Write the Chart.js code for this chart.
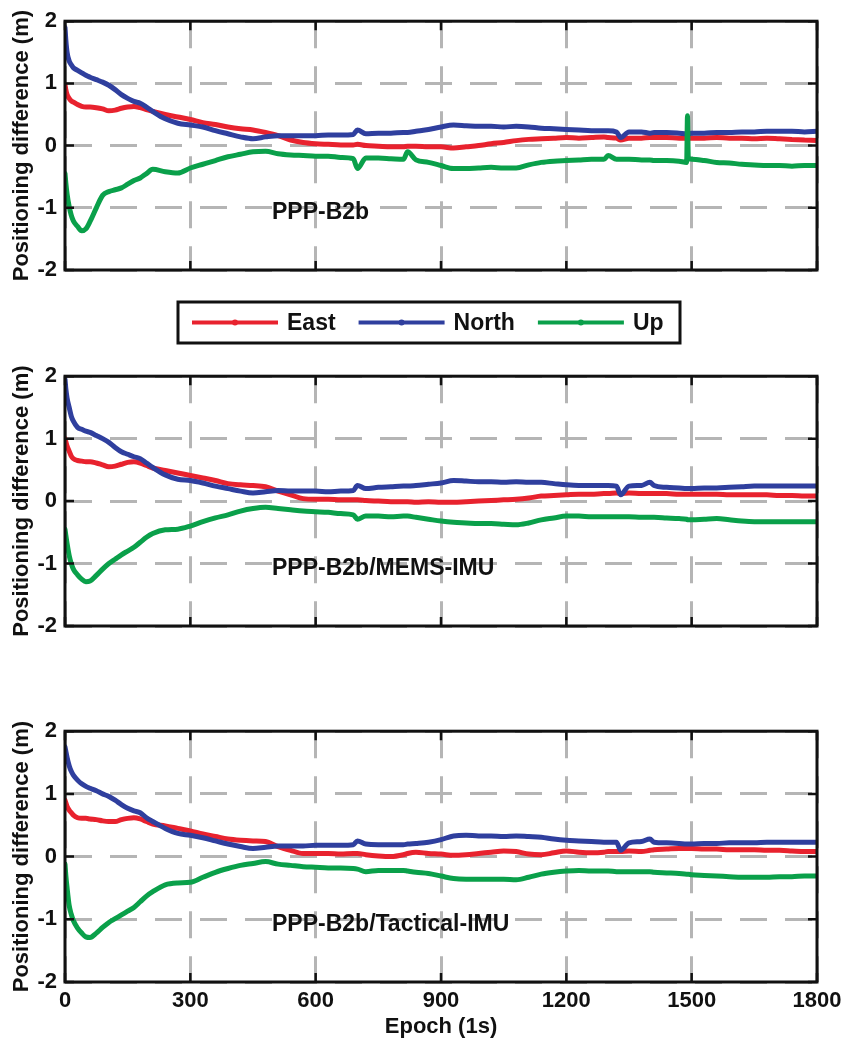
<!DOCTYPE html>
<html><head><meta charset="utf-8">
<script src="https://cdn.jsdelivr.net/npm/chart.js@4.4.1/dist/chart.umd.min.js"></script>
<style>
html,body{margin:0;padding:0;background:#fff;}
#wrap{position:relative;width:857px;height:1046px;overflow:hidden;background:#fff;}
canvas{position:absolute;left:0;}
</style></head><body>
<div id="wrap">
<canvas id="c1" width="857" height="355" style="top:0px"></canvas>
<canvas id="c2" width="857" height="355" style="top:355px"></canvas>
<canvas id="c3" width="857" height="336" style="top:710px"></canvas>
</div>
<script>
// ---------------- data ----------------
const epochs = [0,2,5,10,15,20,30,40,50,60,
 75,90,105,120,135,150,165,180,195,210,
 240,270,300,330,360,390,420,450,480,510,
 540,570,600,630,660,690,700,720,750,780,
 810,820,840,870,900,930,960,990,1020,1050,
 1080,1110,1140,1170,1200,1230,1260,1290,1300,1320,
 1330,1350,1380,1400,1410,1440,1470,1488,1490,1492,
 1500,1530,1560,1590,1620,1650,1680,1710,1740,1770,
 1800];

const xTicks = [0,300,600,900,1200,1500,1800];
const yTicks = [2,1,0,-1,-2];
const seriesNames = ['East','North','Up'];
const panelLabels = ['PPP-B2b','PPP-B2b/MEMS-IMU','PPP-B2b/Tactical-IMU'];

// Panel 1: PPP-B2b
const eastB2b = [0.98,0.9,0.82,0.76,0.72,0.7,0.66,0.63,0.62,0.62,
 0.61,0.59,0.56,0.57,0.6,0.62,0.63,0.61,0.58,0.55,
 0.5,0.46,0.42,0.37,0.34,0.3,0.27,0.25,0.21,0.16,
 0.09,0.05,0.03,0.02,0.01,0.01,0.02,0.0,-0.01,-0.02,
 -0.02,-0.01,-0.01,-0.02,-0.02,-0.04,-0.02,0.0,0.03,0.05,
 0.08,0.1,0.11,0.12,0.13,0.12,0.13,0.14,0.13,0.12,
 0.09,0.12,0.12,0.13,0.13,0.13,0.12,0.12,0.12,0.12,
 0.12,0.12,0.13,0.12,0.12,0.11,0.12,0.11,0.1,0.09,
 0.08];
const northB2b = [1.9,1.7,1.5,1.36,1.3,1.25,1.21,1.17,1.13,1.1,
 1.06,1.02,0.97,0.9,0.82,0.76,0.71,0.68,0.62,0.55,
 0.43,0.36,0.33,0.3,0.24,0.19,0.14,0.11,0.14,0.16,
 0.16,0.16,0.16,0.17,0.17,0.18,0.25,0.19,0.2,0.2,
 0.21,0.21,0.23,0.26,0.3,0.33,0.32,0.31,0.31,0.3,
 0.31,0.3,0.28,0.27,0.26,0.25,0.24,0.24,0.24,0.22,
 0.13,0.22,0.22,0.2,0.21,0.21,0.2,0.19,0.19,0.19,
 0.2,0.2,0.21,0.21,0.22,0.22,0.23,0.23,0.23,0.22,
 0.23];
const upB2b = [-0.45,-0.6,-0.78,-0.98,-1.12,-1.21,-1.3,-1.37,-1.34,-1.22,
 -1.0,-0.8,-0.74,-0.71,-0.68,-0.62,-0.56,-0.52,-0.45,-0.38,
 -0.42,-0.44,-0.36,-0.3,-0.24,-0.18,-0.14,-0.1,-0.09,-0.13,
 -0.15,-0.16,-0.17,-0.17,-0.19,-0.21,-0.37,-0.2,-0.2,-0.21,
 -0.22,-0.1,-0.23,-0.27,-0.32,-0.37,-0.37,-0.36,-0.35,-0.36,
 -0.36,-0.31,-0.27,-0.25,-0.24,-0.23,-0.22,-0.22,-0.16,-0.22,
 -0.22,-0.22,-0.23,-0.23,-0.24,-0.24,-0.25,-0.27,0.48,-0.2,
 -0.22,-0.24,-0.27,-0.28,-0.3,-0.31,-0.32,-0.32,-0.33,-0.32,
 -0.32];

// Panel 2: PPP-B2b/MEMS-IMU
const eastMems = [1.0,0.95,0.88,0.8,0.72,0.68,0.65,0.64,0.63,0.63,
 0.61,0.58,0.55,0.56,0.59,0.62,0.63,0.61,0.57,0.53,
 0.49,0.45,0.41,0.37,0.33,0.28,0.26,0.25,0.23,0.16,
 0.1,0.04,0.03,0.03,0.02,0.02,0.02,0.01,0.0,-0.01,
 -0.01,-0.01,-0.02,-0.01,-0.02,-0.02,-0.01,0.0,0.01,0.02,
 0.03,0.05,0.08,0.09,0.1,0.11,0.11,0.12,0.12,0.13,
 0.12,0.13,0.12,0.12,0.12,0.12,0.11,0.11,0.11,0.11,
 0.11,0.11,0.11,0.1,0.1,0.1,0.1,0.09,0.09,0.08,
 0.08];
const northMems = [1.95,1.8,1.65,1.5,1.36,1.28,1.18,1.15,1.12,1.1,
 1.05,1.0,0.94,0.86,0.79,0.75,0.71,0.68,0.61,0.54,
 0.42,0.35,0.33,0.29,0.24,0.2,0.16,0.13,0.15,0.17,
 0.16,0.16,0.16,0.15,0.16,0.17,0.25,0.2,0.22,0.23,
 0.24,0.24,0.25,0.27,0.29,0.33,0.32,0.31,0.31,0.3,
 0.31,0.3,0.3,0.28,0.26,0.25,0.25,0.25,0.25,0.24,
 0.1,0.24,0.25,0.3,0.25,0.22,0.21,0.2,0.2,0.2,
 0.2,0.21,0.21,0.22,0.23,0.24,0.24,0.24,0.24,0.24,
 0.24];
const upMems = [-0.45,-0.55,-0.68,-0.87,-1.0,-1.09,-1.18,-1.25,-1.29,-1.28,
 -1.19,-1.09,-1.0,-0.93,-0.86,-0.8,-0.74,-0.66,-0.58,-0.52,
 -0.46,-0.45,-0.4,-0.33,-0.27,-0.22,-0.16,-0.12,-0.1,-0.12,
 -0.14,-0.16,-0.17,-0.18,-0.2,-0.22,-0.29,-0.24,-0.24,-0.25,
 -0.24,-0.24,-0.26,-0.29,-0.32,-0.34,-0.35,-0.36,-0.36,-0.37,
 -0.38,-0.35,-0.3,-0.27,-0.24,-0.24,-0.25,-0.25,-0.25,-0.25,
 -0.25,-0.25,-0.26,-0.26,-0.26,-0.27,-0.28,-0.29,-0.3,-0.3,
 -0.3,-0.29,-0.28,-0.3,-0.32,-0.33,-0.33,-0.33,-0.33,-0.33,
 -0.33];

// Panel 3: PPP-B2b/Tactical-IMU
const eastTact = [0.9,0.86,0.8,0.74,0.7,0.66,0.62,0.61,0.61,0.6,
 0.59,0.57,0.56,0.56,0.59,0.61,0.62,0.6,0.56,0.52,
 0.49,0.45,0.41,0.36,0.32,0.28,0.26,0.25,0.24,0.16,
 0.1,0.05,0.05,0.05,0.04,0.05,0.05,0.03,0.01,0.0,
 0.03,0.05,0.07,0.05,0.04,0.02,0.03,0.05,0.07,0.09,
 0.08,0.04,0.03,0.06,0.09,0.07,0.06,0.07,0.08,0.08,
 0.08,0.09,0.08,0.1,0.11,0.12,0.13,0.13,0.13,0.13,
 0.13,0.12,0.12,0.11,0.11,0.11,0.1,0.1,0.09,0.08,
 0.08];
const northTact = [1.75,1.68,1.58,1.45,1.36,1.3,1.22,1.16,1.12,1.09,
 1.05,1.0,0.96,0.9,0.83,0.77,0.73,0.7,0.62,0.56,
 0.45,0.37,0.34,0.3,0.25,0.2,0.16,0.13,0.15,0.17,
 0.17,0.17,0.18,0.18,0.18,0.19,0.25,0.2,0.19,0.19,
 0.19,0.2,0.21,0.23,0.27,0.33,0.34,0.33,0.33,0.32,
 0.33,0.32,0.31,0.28,0.26,0.25,0.24,0.23,0.23,0.23,
 0.1,0.22,0.24,0.28,0.23,0.22,0.21,0.2,0.2,0.2,
 0.2,0.21,0.21,0.22,0.22,0.22,0.23,0.23,0.23,0.23,
 0.23];
const upTact = [-0.12,-0.3,-0.5,-0.78,-0.92,-1.02,-1.14,-1.22,-1.28,-1.29,
 -1.22,-1.13,-1.05,-0.99,-0.93,-0.87,-0.81,-0.72,-0.63,-0.56,
 -0.45,-0.42,-0.41,-0.33,-0.25,-0.19,-0.14,-0.11,-0.08,-0.12,
 -0.14,-0.16,-0.17,-0.18,-0.18,-0.19,-0.2,-0.24,-0.22,-0.22,
 -0.22,-0.23,-0.25,-0.27,-0.31,-0.35,-0.36,-0.36,-0.36,-0.36,
 -0.37,-0.33,-0.28,-0.25,-0.23,-0.22,-0.23,-0.23,-0.23,-0.24,
 -0.24,-0.24,-0.24,-0.24,-0.25,-0.26,-0.27,-0.28,-0.28,-0.28,
 -0.29,-0.3,-0.31,-0.32,-0.33,-0.33,-0.33,-0.32,-0.32,-0.31,
 -0.31];

// ---------------- styling ----------------
const COLORS = ['#e8222e', '#2f3f9e', '#0aa04a'];
const FONT = '"Liberation Sans", Arial, Helvetica, sans-serif';
const INK = '#111111';
const GRID = '#b5b5b5';

const framePlugin = {
  id: 'frame',
  afterDatasetsDraw(chart, args, opts) {
    const {ctx, chartArea: a, scales: {x, y}} = chart;
    ctx.save();
    ctx.strokeStyle = INK;
    ctx.lineWidth = 2.5;
    ctx.beginPath();
    for (const v of yTicks) {
      const py = y.getPixelForValue(v);
      ctx.moveTo(a.left, py); ctx.lineTo(a.left + 9, py);
      ctx.moveTo(a.right, py); ctx.lineTo(a.right - 9, py);
    }
    for (const v of xTicks) {
      const px = x.getPixelForValue(v);
      ctx.moveTo(px, a.bottom); ctx.lineTo(px, a.bottom - 9);
      ctx.moveTo(px, a.top); ctx.lineTo(px, a.top + 9);
    }
    ctx.stroke();
    ctx.lineWidth = 3;
    ctx.strokeRect(a.left, a.top, a.right - a.left, a.bottom - a.top);
    ctx.fillStyle = INK;
    ctx.font = 'bold 23px ' + FONT;
    ctx.textAlign = 'left';
    ctx.textBaseline = 'middle';
    ctx.fillText(opts.label, a.left + 207, y.getPixelForValue(-1) + 5);
    ctx.restore();
  }
};

const legendPlugin = {
  id: 'lineLegend',
  afterDraw(chart, args, opts) {
    if (!opts.show) return;
    const {ctx, chartArea: a} = chart;
    const top = a.bottom + 32, bottom = a.bottom + 73;
    const left = 178, right = 680;
    const cy = (top + bottom) / 2;
    ctx.save();
    ctx.strokeStyle = INK;
    ctx.lineWidth = 3;
    ctx.strokeRect(left, top, right - left, bottom - top);
    ctx.font = 'bold 23px ' + FONT;
    ctx.textBaseline = 'middle';
    ctx.textAlign = 'left';
    let xx = left + 14;
    chart.data.datasets.forEach((ds) => {
      ctx.strokeStyle = ds.borderColor;
      ctx.lineWidth = 4;
      ctx.beginPath();
      ctx.moveTo(xx, cy); ctx.lineTo(xx + 86, cy);
      ctx.stroke();
      ctx.fillStyle = ds.borderColor;
      ctx.beginPath();
      ctx.arc(xx + 43, cy, 3, 0, Math.PI * 2);
      ctx.fill();
      ctx.fillStyle = INK;
      ctx.fillText(ds.label, xx + 95, cy + 1);
      xx = xx + 95 + ctx.measureText(ds.label).width + 23;
    });
    ctx.restore();
  }
};

function makeChart(id, vals, label, opt) {
  const datasets = vals.map((v, k) => ({
    label: seriesNames[k],
    data: epochs.map((t, i) => ({x: t, y: v[i]})),
    borderColor: COLORS[k],
    backgroundColor: COLORS[k],
    borderWidth: 5,
    borderJoinStyle: 'round',
    borderCapStyle: 'round',
    pointRadius: 0,
    cubicInterpolationMode: 'monotone',
    fill: false,
    order: 2 - k
  }));
  const canvas = document.getElementById(id);
  return new Chart(canvas, {
    type: 'line',
    data: {datasets},
    options: {
      responsive: false,
      animation: false,
      devicePixelRatio: 1,
      layout: {padding: {left: 0, right: 40, top: opt.top, bottom: 0}},
      plugins: {
        legend: {display: false},
        tooltip: {enabled: false},
        frame: {label},
        lineLegend: {show: !!opt.legend}
      },
      scales: {
        x: {
          type: 'linear', min: 0, max: 1800,
          afterFit: (s) => { s.height = opt.xh; },
          afterBuildTicks: (s) => { s.ticks = xTicks.map(v => ({value: v})); },
          grid: {color: GRID, lineWidth: 3, drawTicks: false},
          border: {display: false, dash: [27, 18]},
          ticks: {display: !!opt.xlabels, color: INK, padding: 6,
                  font: {family: FONT, size: 22, weight: 'bold'}, maxRotation: 0,
                  callback: (v) => String(v)},
          title: {display: !!opt.xlabels, text: 'Epoch (1s)', color: INK,
                  font: {family: FONT, size: 22, weight: 'bold'}, padding: {top: 0, bottom: 6}}
        },
        y: {
          type: 'linear', min: -2, max: 2,
          afterFit: (s) => { s.width = 65; },
          afterBuildTicks: (s) => { s.ticks = yTicks.map(v => ({value: v})); },
          grid: {color: GRID, lineWidth: 3, drawTicks: false},
          border: {display: false, dash: [27, 18]},
          ticks: {color: INK, padding: 8, font: {family: FONT, size: 22, weight: 'bold'},
                  callback: (v) => String(v)},
          title: {display: true, text: 'Positioning difference (m)', color: INK,
                  font: {family: FONT, size: 22, weight: 'bold'}, padding: {top: 9, bottom: 0}}
        }
      }
    },
    plugins: [framePlugin, legendPlugin]
  });
}

makeChart('c1', [eastB2b, northB2b, upB2b], panelLabels[0], {top: 17, xh: 85, legend: true});
makeChart('c2', [eastMems, northMems, upMems], panelLabels[1], {top: 18, xh: 84});
makeChart('c3', [eastTact, northTact, upTact], panelLabels[2], {top: 15, xh: 64, xlabels: true});
</script>
</body></html>
